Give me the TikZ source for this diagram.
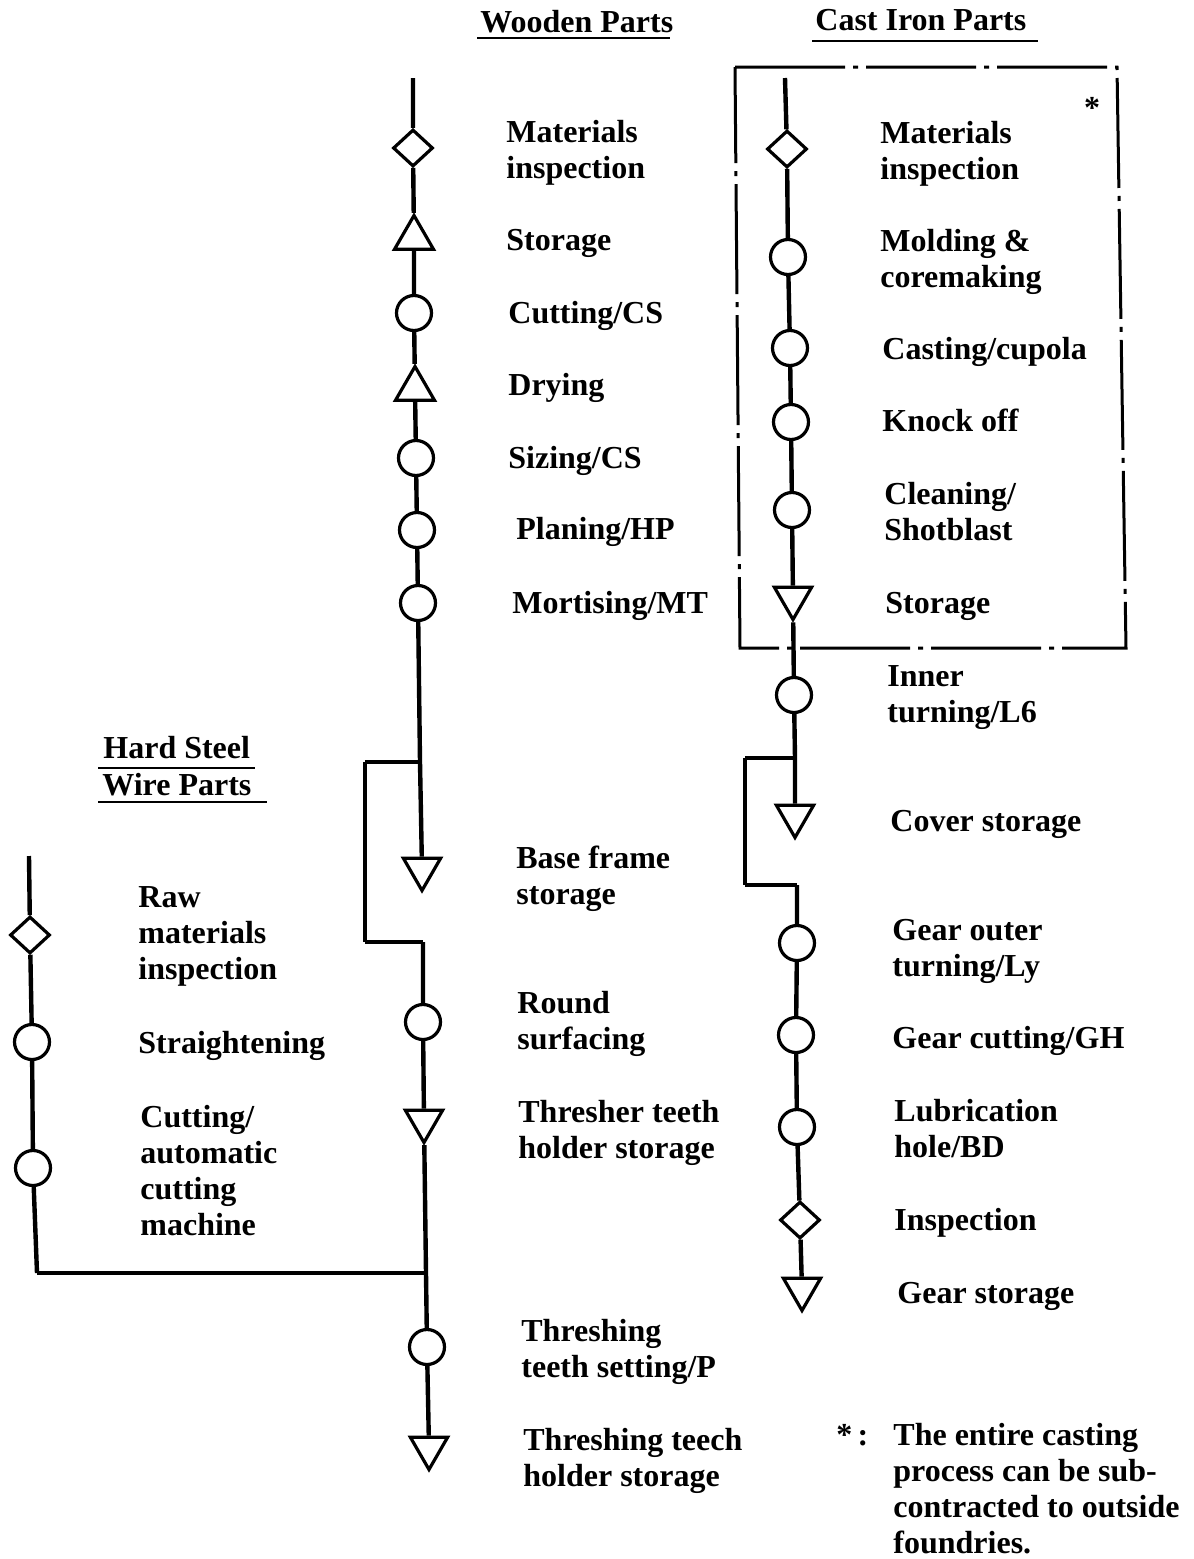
\documentclass[tikz,border=0pt]{standalone}
\usepackage{fontspec}
\setmainfont{Liberation Serif}
\usetikzlibrary{shapes.geometric}
\begin{document}
\begin{tikzpicture}[x=0.5pt,y=-0.5pt,
  flow/.style={line width=2.2pt},
  link/.style={line width=1.7pt},
  op/.style={circle,draw,line width=1.6pt,minimum size=17.5pt,inner sep=0pt},
  insp/.style={diamond,draw,line width=1.6pt,minimum width=20pt,minimum height=18.5pt,inner sep=0pt},
  storedown/.style={regular polygon,regular polygon sides=3,shape border rotate=180,draw,line width=1.6pt,minimum size=21.5pt,inner sep=0pt},
  storeup/.style={regular polygon,regular polygon sides=3,draw,line width=1.6pt,minimum size=22.5pt,inner sep=0pt},
  lab/.style={anchor=west,align=left,inner sep=0pt,font=\fontsize{16}{18}\selectfont\bfseries},
  title/.style={anchor=base west,inner sep=0pt,font=\fontsize{16}{18}\selectfont\bfseries},
  uline/.style={line width=1pt},
  boxline/.style={line width=1.5pt,dash pattern=on 55pt off 4pt on 2.5pt off 4pt}
]
\useasboundingbox (0,0) rectangle (1194,1559);

% ---- column titles ----
\node[title] (tw) at (480,32) {Wooden Parts};
\draw[uline] (477,38) -- (670,38);
\node[title] (tc) at (815,30) {Cast Iron Parts};
\draw[uline] (812,41) -- (1038,41);
\node[title] (th1) at (103,758) {Hard Steel};
\draw[uline] (98,768) -- (255,768);
\node[title] (th2) at (102,795) {Wire Parts};
\draw[uline] (98,802) -- (267,802);

% ---- wooden parts ----
\coordinate (w0) at (413,78);
\node[insp] (w1) at (413,148) {};
\node[storeup] (w2) at (414,238) {};
\node[op] (w3) at (414,313) {};
\node[storeup] (w4) at (415,389) {};
\node[op] (w5) at (416,458) {};
\node[op] (w6) at (417,530) {};
\node[op] (w7) at (418,603) {};
\coordinate (wj) at (420,762);
\node[storedown] (w8) at (422,869) {};
\coordinate (wa) at (365,762);
\coordinate (wb) at (365,942);
\coordinate (wc) at (423,942);
\node[op] (w9) at (423,1022) {};
\node[storedown] (w10) at (424,1121) {};
\coordinate (wk) at (426,1273);
\node[op] (w11) at (427,1347) {};
\node[storedown] (w12) at (429,1448) {};

\draw[flow] (w0) -- (w1) -- (w2) -- (w3) -- (w4) -- (w5) -- (w6) -- (w7) -- (wj) -- (w8);
\draw[link] (wj) -- (wa);
\draw[flow] (wa) -- (wb);
\draw[link] (wb) -- (wc);
\draw[flow] (wc) -- (w9) -- (w10) -- (wk) -- (w11) -- (w12);

\node[lab] (lw1) at (506,153) {\strut Materials\\inspection\strut};
\node[lab] (lw2) at (506,243) {\strut Storage};
\node[lab] (lw3) at (508,316) {\strut Cutting/CS};
\node[lab] (lw4) at (508,388) {\strut Drying};
\node[lab] (lw5) at (508,461) {\strut Sizing/CS};
\node[lab] (lw6) at (516,532) {\strut Planing/HP};
\node[lab] (lw7) at (512,606) {\strut Mortising/MT};
\node[lab] (lw8) at (516,879.5) {\strut Base frame\\storage\strut};
\node[lab] (lw9) at (517,1024.5) {\strut Round\\surfacing\strut};
\node[lab] (lw10) at (518,1133.5) {\strut Thresher teeth\\holder storage\strut};
\node[lab] (lw11) at (521,1352.5) {\strut Threshing\\teeth setting/P\strut};
\node[lab] (lw12) at (523,1461) {\strut Threshing teech\\holder storage\strut};

% ---- hard steel wire parts ----
\coordinate (h0) at (29,856);
\node[insp] (h1) at (30,935) {};
\node[op] (h2) at (32,1042) {};
\node[op] (h3) at (33,1168) {};
\coordinate (hk) at (37,1273);
\draw[flow] (h0) -- (h1) -- (h2) -- (h3) -- (hk);
\draw[link] (hk) -- (wk);

\node[lab] (lh1) at (138,936) {\strut Raw\\materials\\inspection\strut};
\node[lab] (lh2) at (138,1046) {\strut Straightening};
\node[lab] (lh3) at (140,1174.5) {\strut Cutting/\\automatic\\cutting\\machine\strut};

% ---- cast iron parts ----
\draw[boxline] (735,67) -- (1117,67) -- (1126,648) -- (740,648) -- cycle;
\node[font=\fontsize{16}{18}\selectfont\bfseries,inner sep=0pt] (star) at (1092,108) {*};

\coordinate (c0) at (785,78);
\node[insp] (c1) at (787,149) {};
\node[op] (c2) at (788,257) {};
\node[op] (c3) at (790,348) {};
\node[op] (c4) at (791,422) {};
\node[op] (c5) at (792,510) {};
\node[storedown] (c6) at (793,598) {};
\node[op] (c7) at (794,695) {};
\coordinate (cj) at (795,758);
\node[storedown] (c8) at (795,816) {};
\coordinate (ca) at (745,758);
\coordinate (cb) at (745,885);
\coordinate (cc) at (797,885);
\node[op] (c9) at (797,943) {};
\node[op] (c10) at (796,1035) {};
\node[op] (c11) at (797,1127) {};
\node[insp] (c12) at (800,1220) {};
\node[storedown] (c13) at (802,1289) {};

\draw[flow] (c0) -- (c1) -- (c2) -- (c3) -- (c4) -- (c5) -- (c6) -- (c7) -- (cj) -- (c8);
\draw[link] (cj) -- (ca);
\draw[flow] (ca) -- (cb);
\draw[link] (cb) -- (cc);
\draw[flow] (cc) -- (c9) -- (c10) -- (c11) -- (c12) -- (c13);

\node[lab] (lc1) at (880,154) {\strut Materials\\inspection\strut};
\node[lab] (lc2) at (880,262.5) {\strut Molding \&\\coremaking\strut};
\node[lab] (lc3) at (882,352) {\strut Casting/cupola};
\node[lab] (lc4) at (882,424) {\strut Knock off};
\node[lab] (lc5) at (884,515) {\strut Cleaning/\\Shotblast\strut};
\node[lab] (lc6) at (885,606) {\strut Storage};
\node[lab] (lc7) at (887,697) {\strut Inner\\turning/L6\strut};
\node[lab] (lc8) at (890,824) {\strut Cover storage};
\node[lab] (lc9) at (892,951) {\strut Gear outer\\turning/Ly\strut};
\node[lab] (lc10) at (892,1041) {\strut Gear cutting/GH};
\node[lab] (lc11) at (894,1132) {\strut Lubrication\\hole/BD\strut};
\node[lab] (lc12) at (894,1223) {\strut Inspection};
\node[lab] (lc13) at (897,1296) {\strut Gear storage};

% ---- footnote ----
\node[lab,anchor=base west] (fnmark) at (836,1445) {*\,:};
\node[lab,anchor=north west] (fn) at (893,1420) {\strut The entire casting\\process can be sub-\\contracted to outside\\foundries.};
\end{tikzpicture}
\end{document}
